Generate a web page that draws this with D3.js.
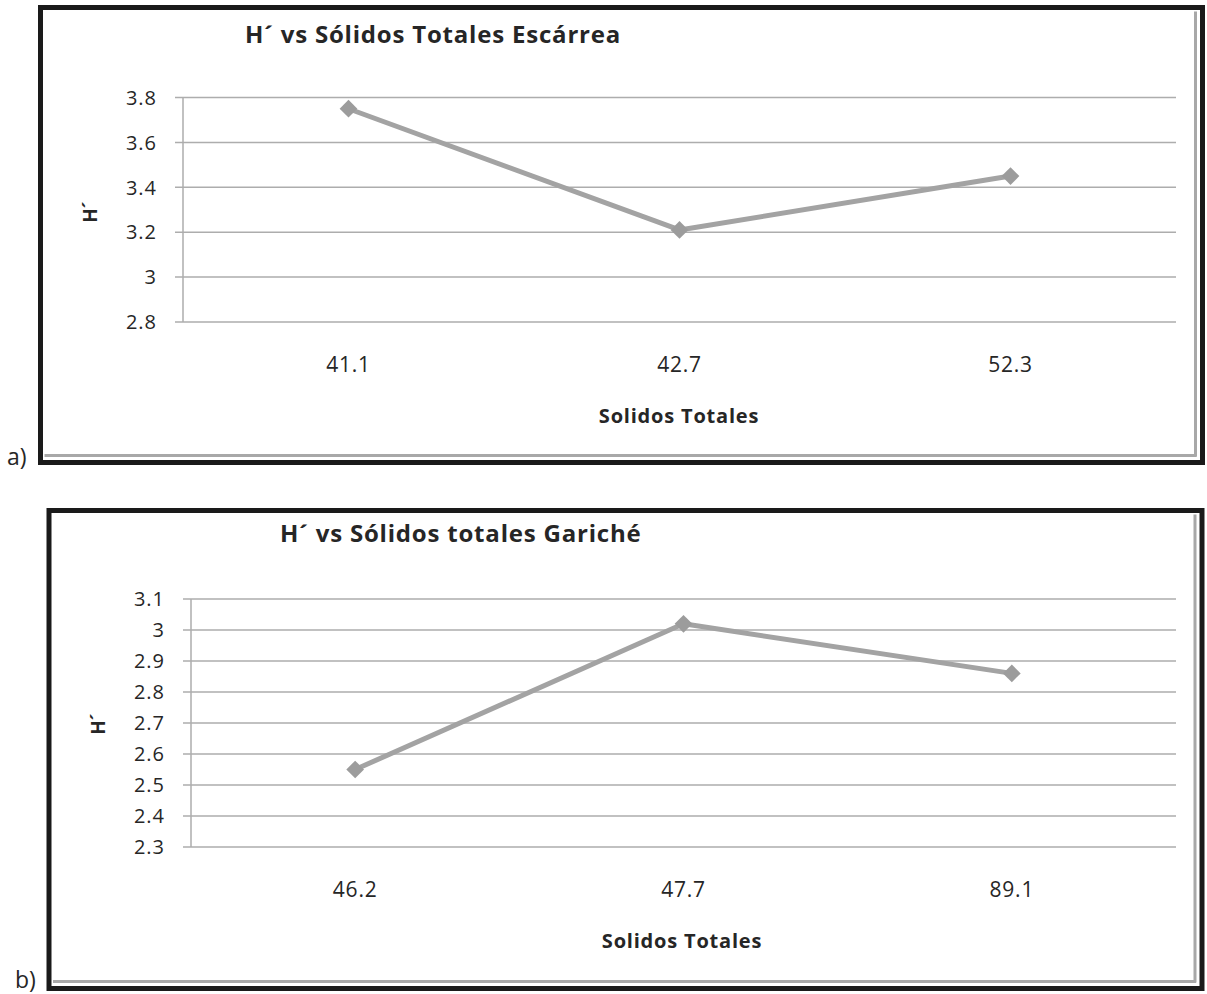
<!DOCTYPE html>
<html><head><meta charset="utf-8">
<script src="https://cdn.jsdelivr.net/npm/d3@7"></script>
<style>
html,body{margin:0;padding:0;background:#fff;}
svg{display:block;}
text{font-family:"Open Sans","Noto Sans",sans-serif;fill:#262626;}
</style></head>
<body>
<svg id="c" width="1207" height="994"></svg>
<script>
// Chart a
const titleA = "H´ vs Sólidos Totales Escárrea";
const catsA = ["41.1", "42.7", "52.3"];
const valsA = [3.75, 3.21, 3.45];
const ticksA = [2.8, 3, 3.2, 3.4, 3.6, 3.8];
// Chart b
const titleB = "H´ vs Sólidos totales Gariché";
const catsB = ["46.2", "47.7", "89.1"];
const valsB = [2.55, 3.02, 2.86];
const ticksB = [2.3, 2.4, 2.5, 2.6, 2.7, 2.8, 2.9, 3, 3.1];
const xTitle = "Solidos Totales";
const yTitle = "H´";

const svg = d3.select("#c");

function panel(cfg) {
  const g = svg.append("g");
  // frame
  g.append("rect").attr("x", cfg.fx).attr("y", cfg.fy).attr("width", cfg.fw).attr("height", cfg.fh)
    .attr("fill", "#fff").attr("stroke", "#1a1a1a").attr("stroke-width", 5);
  // inner shadow lines (bottom, right)
  g.append("line").attr("x1", cfg.fx + 4).attr("x2", cfg.fx + cfg.fw - 6)
    .attr("y1", cfg.fy + cfg.fh - 7).attr("y2", cfg.fy + cfg.fh - 7)
    .attr("stroke", "#a8a8a8").attr("stroke-width", 3);
  g.append("line").attr("x1", cfg.fx + cfg.fw - 7).attr("x2", cfg.fx + cfg.fw - 7)
    .attr("y1", cfg.fy + 4).attr("y2", cfg.fy + cfg.fh - 6)
    .attr("stroke", "#a8a8a8").attr("stroke-width", 3);

  const x = d3.scaleBand().domain(cfg.cats).range([cfg.x0, cfg.x1]);
  const y = d3.scaleLinear().domain(cfg.dom).range([cfg.y0, cfg.y1]);

  // gridlines
  g.append("g").selectAll("line").data(cfg.ticks).join("line")
    .attr("x1", cfg.x0 - 8).attr("x2", cfg.x1)
    .attr("y1", d => y(d)).attr("y2", d => y(d))
    .attr("stroke", "#adadad").attr("stroke-width", 1.5);
  // y axis line
  g.append("line").attr("x1", cfg.x0).attr("x2", cfg.x0).attr("y1", y(cfg.dom[1])).attr("y2", y(cfg.dom[0]))
    .attr("stroke", "#adadad").attr("stroke-width", 1.5);
  // y tick labels
  g.append("g").selectAll("text").data(cfg.ticks).join("text")
    .attr("x", cfg.x0 - 26).attr("y", d => y(d)).attr("dy", "0.36em")
    .attr("text-anchor", "end").attr("font-size", 20).attr("letter-spacing", 1)
    .text(d => String(d));
  // x tick labels
  g.append("g").selectAll("text").data(cfg.cats).join("text")
    .attr("x", d => x(d) + x.bandwidth() / 2).attr("y", cfg.y0 + 50)
    .attr("text-anchor", "middle").attr("font-size", 21).attr("letter-spacing", 0.8)
    .text(d => d);
  // title
  g.append("text").attr("x", cfg.tx).attr("y", cfg.ty).attr("font-size", 24).attr("font-weight", 700)
    .attr("letter-spacing", 0.8).text(cfg.title);
  // x title
  g.append("text").attr("x", cfg.xtx).attr("y", cfg.y0 + 101).attr("text-anchor", "middle")
    .attr("font-size", 20).attr("font-weight", 700).attr("letter-spacing", 0.8).text(xTitle);
  // y title
  g.append("text").attr("transform", `translate(${cfg.ytx},${cfg.yty}) rotate(-90)`)
    .attr("text-anchor", "middle").attr("font-size", 19).attr("font-weight", 700).text(yTitle);
  // panel letter
  g.append("text").attr("x", cfg.lx).attr("y", cfg.ly).attr("font-size", 23).text(cfg.letter);

  const pts = cfg.vals.map((v, i) => [x(cfg.cats[i]) + x.bandwidth() / 2, y(v)]);
  g.append("path").attr("d", d3.line()(pts)).attr("fill", "none")
    .attr("stroke", "#a3a3a3").attr("stroke-width", 5).attr("stroke-linejoin", "round");
  g.append("g").selectAll("path").data(pts).join("path")
    .attr("d", d3.symbol().type(d3.symbolDiamond2).size(200))
    .attr("transform", d => `translate(${d[0]},${d[1]})`)
    .attr("fill", "#9c9c9c");
}

panel({
  fx: 40.5, fy: 7.5, fw: 1162, fh: 455,
  cats: catsA, vals: valsA, ticks: ticksA, dom: [2.8, 3.8],
  x0: 183, x1: 1176, y0: 322, y1: 97.5,
  title: titleA, tx: 245, ty: 43,
  xtx: 679, ytx: 97, yty: 212,
  letter: "a)", lx: 7, ly: 465
});
panel({
  fx: 49, fy: 510.5, fw: 1153, fh: 478,
  cats: catsB, vals: valsB, ticks: ticksB, dom: [2.3, 3.1],
  x0: 191, x1: 1176, y0: 847, y1: 599,
  title: titleB, tx: 280, ty: 542,
  xtx: 682, ytx: 105, yty: 724,
  letter: "b)", lx: 15, ly: 988
});
</script>
</body></html>
